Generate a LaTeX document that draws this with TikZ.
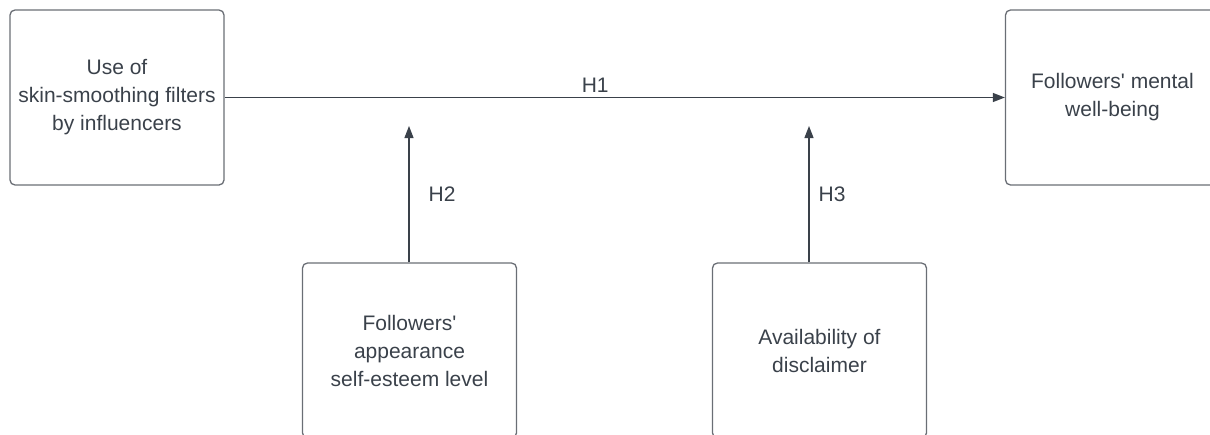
\documentclass[tikz,border=0pt]{standalone}
\usepackage{fontspec}
\setmainfont{Liberation Sans}
\usetikzlibrary{arrows.meta}
\definecolor{boxline}{HTML}{6A6E75}
\definecolor{inktext}{HTML}{3A414A}
\tikzset{
  factor/.style={draw=boxline,line width=1.3pt,rounded corners=5pt,
    minimum width=214pt,minimum height=175pt,align=center,
    text=inktext,font=\fontsize{21}{28}\selectfont},
  link/.style={draw=inktext,line width=1.2pt,-{Triangle[length=12pt,width=9pt]}},
  hyp/.style={text=inktext,font=\fontsize{21}{28}\selectfont}
}
\begin{document}
\begin{tikzpicture}[x=1pt,y=-1pt]
  \useasboundingbox (0,0) rectangle (1210,434);
  \clip (0,0) rectangle (1210,434);
  \node[factor] (filters) at (117,97.5) {Use of\\skin-smoothing filters\\by influencers};
  \node[factor] (wellbeing) at (1112.5,97.5) {Followers\textquotesingle{} mental\\well-being};
  \node[factor] (esteem) at (409.5,350.5) {Followers\textquotesingle\\appearance\\self-esteem level};
  \node[factor] (disclaimer) at (819.5,350.5) {Availability of\\disclaimer};
  \coordinate (h2end) at (409,126);
  \coordinate (h3end) at (809,126);
  \draw[link] (filters) -- (wellbeing)
    node[hyp,pos=0.475,above,inner sep=4pt] {H1};
  \draw[link] (h2end |- esteem.north) -- (h2end)
    node[hyp,midway,right,inner sep=0pt,xshift=19pt] {H2};
  \draw[link] (h3end |- disclaimer.north) -- (h3end)
    node[hyp,midway,right,inner sep=0pt,xshift=9pt] {H3};
\end{tikzpicture}
\end{document}
